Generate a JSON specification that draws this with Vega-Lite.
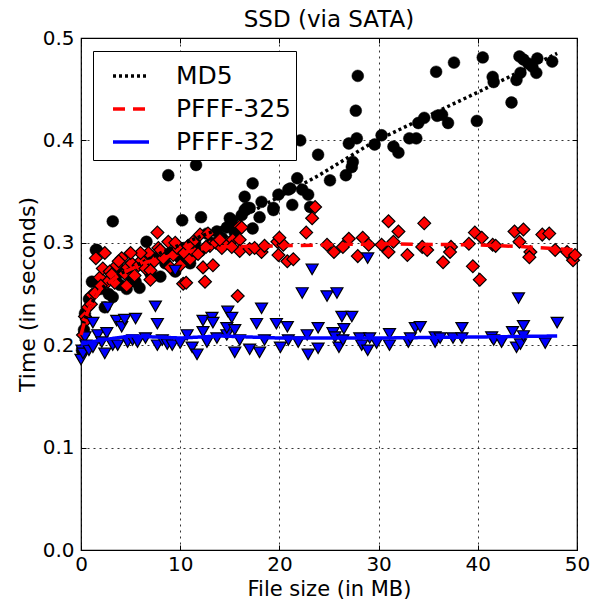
{
  "$schema": "https://vega.github.io/schema/vega-lite/v6.json",
  "width": 496,
  "height": 512,
  "autosize": {"type": "none"},
  "padding": {"left": 81, "top": 38, "right": 18, "bottom": 59},
  "title": {"text": "SSD (via SATA)", "fontSize": 23, "font": "DejaVu Sans", "fontWeight": "normal", "color": "black", "offset": -4},
  "config": {
    "font": "DejaVu Sans",
    "view": {"stroke": "black", "strokeWidth": 1.2},
    "axis": {"labelFont": "DejaVu Sans", "titleFont": "DejaVu Sans", "labelColor": "black", "titleColor": "black", "titleFontWeight": "normal", "domainColor": "black", "tickColor": "black", "labelFlush": false}
  },
  "datasets": {
    "md5": [
      [3.2,0.321],[8.8,0.366],[11.6,0.376],[10.2,0.322],[6.6,0.301],[1.6,0.293],[22.1,0.400],[23.9,0.386],[17.3,0.358],[21.8,0.363],[21.1,0.353],[19.9,0.347],[22.9,0.347],[16.5,0.345],[18.2,0.340],[16.7,0.334],[19.4,0.332],[21.3,0.337],[23.1,0.335],[15.2,0.322],[16.2,0.327],[14.7,0.315],[12.1,0.325],[20.9,0.352],[22.3,0.352],[17.0,0.334],[16.5,0.332],[15.1,0.317],
      [27.9,0.463],[27.7,0.429],[27.8,0.402],[27.0,0.397],[25.1,0.361],[26.7,0.366],[27.3,0.374],[27.4,0.379],[29.6,0.396],[30.3,0.405],[31.5,0.394],[32.0,0.388],[33.1,0.402],[33.8,0.402],[34.0,0.417],[34.6,0.422],[35.9,0.424],[36.4,0.425],[37.0,0.417],[35.8,0.467],[37.6,0.476],[39.9,0.419],[40.5,0.481],[41.5,0.462],[41.6,0.457],[43.4,0.437],[43.9,0.459],[44.3,0.466],[44.2,0.482],[44.6,0.479],[45.1,0.475],[46.0,0.480],[45.9,0.466],[47.5,0.477],[45.5,0.472],
      [0.1,0.195],[0.3,0.215],[0.4,0.231],[0.8,0.245],[1.1,0.262],[1.5,0.293],[2.0,0.255],[2.4,0.237],[2.8,0.250],[3.2,0.247],[3.5,0.265],[3.9,0.259],[4.2,0.272],[4.6,0.255],[5.0,0.268],[5.5,0.262],[5.9,0.256],[6.3,0.278],[7.0,0.270],[7.5,0.285],[8.0,0.267],[8.5,0.280],[9.0,0.290],[9.5,0.272],[10.0,0.285],[10.5,0.295],[11.0,0.280],[11.5,0.300],[12.0,0.292],[12.7,0.309],[13.2,0.300],[13.7,0.311],[14.2,0.305],[15.0,0.324],[15.5,0.310],[17.3,0.314],[19.4,0.334],[18.0,0.325]
    ],
    "p325": [
      [0.2,0.210],[0.4,0.228],[0.7,0.237],[1.1,0.249],[1.4,0.251],[1.5,0.285],[1.9,0.266],[2.2,0.275],[2.4,0.290],[2.7,0.262],[2.9,0.272],[3.1,0.269],[3.4,0.261],[3.6,0.278],[4.1,0.285],[4.4,0.270],[4.7,0.276],[5.1,0.280],[5.4,0.268],[5.8,0.278],[6.1,0.283],[6.5,0.275],[6.8,0.290],[7.0,0.273],[7.0,0.264],[7.4,0.282],[7.7,0.310],[7.8,0.295],[8.3,0.285],[8.8,0.301],[9.0,0.276],[9.3,0.288],[9.7,0.295],[10.0,0.278],[10.3,0.260],[10.4,0.290],[10.6,0.261],[11.0,0.284],[11.2,0.293],[11.3,0.301],[11.8,0.289],[12.0,0.308],[12.3,0.276],[12.5,0.262],[12.8,0.309],[13.0,0.297],[13.3,0.278],[13.6,0.300],[14.2,0.295],[14.8,0.300],[15.3,0.303],[15.8,0.248],[16.0,0.303],[16.0,0.292],[16.0,0.316],[17.0,0.294],[18.2,0.291],[19.8,0.301],[19.9,0.288],[20.4,0.298],[20.8,0.282],[21.4,0.284],[22.7,0.310],[23.3,0.324],[23.6,0.335],
      [9.5,0.300],[8.0,0.293],[6.0,0.290],[5.0,0.290],[3.8,0.282],[4.6,0.258],[2.0,0.258],[1.0,0.240],[0.6,0.225],[10.8,0.297],[12.6,0.296],[14.0,0.303],[17.5,0.295],[18.5,0.297],[15.2,0.296],[16.2,0.315],[20.0,0.305],
      [24.8,0.298],[25.5,0.291],[26.4,0.296],[27.0,0.304],[27.9,0.287],[28.4,0.305],[29.0,0.298],[30.3,0.298],[31.0,0.321],[31.0,0.291],[31.5,0.301],[32.0,0.311],[32.9,0.288],[34.4,0.296],[34.6,0.319],[34.9,0.293],[36.5,0.281],[37.3,0.296],[37.2,0.291],[39.1,0.299],[39.5,0.277],[39.7,0.310],[40.2,0.264],[40.4,0.305],[41.5,0.298],[41.8,0.297],[43.7,0.311],[44.2,0.301],[44.6,0.313],[45.3,0.291],[45.2,0.286],[46.5,0.308],[47.2,0.309],[47.8,0.293],[49.0,0.291],[49.6,0.283],[49.8,0.288]
    ],
    "p32": [
      [0.0,0.186],[0.1,0.195],[0.2,0.192],[0.4,0.208],[0.5,0.200],[0.8,0.195],[1.2,0.222],[1.2,0.198],[1.7,0.210],[2.1,0.203],[2.4,0.192],[2.6,0.212],[2.7,0.237],[3.2,0.200],[3.6,0.224],[3.7,0.200],[4.1,0.218],[4.4,0.225],[4.7,0.203],[5.2,0.205],[5.5,0.226],[5.7,0.203],[6.5,0.207],[7.5,0.238],[7.7,0.221],[7.7,0.200],[8.2,0.205],[8.7,0.201],[9.2,0.200],[9.5,0.273],[10.0,0.202],[10.7,0.210],[11.2,0.198],[11.7,0.191],[12.3,0.224],[12.3,0.213],[12.7,0.203],[13.2,0.227],[13.3,0.222],[13.7,0.207],[14.7,0.210],[14.7,0.217],[14.8,0.233],[15.2,0.227],[15.5,0.215],[15.5,0.193],[16.0,0.205],[17.0,0.196],[17.7,0.221],[18.0,0.193],[18.2,0.236],[18.5,0.205],[19.7,0.221],[20.1,0.198],[20.8,0.218],[20.9,0.205],[21.9,0.203],[22.3,0.251],[22.8,0.210],[22.9,0.191],[23.3,0.274],[23.9,0.217],[23.9,0.197],[24.8,0.248],[25.4,0.212],[25.6,0.208],[25.8,0.251],[26.0,0.198],[26.3,0.228],[26.4,0.205],[26.5,0.216],[27.3,0.228],[28.1,0.207],[28.3,0.200],[28.9,0.195],[28.9,0.285],[29.1,0.207],[29.8,0.202],[31.1,0.211],[31.1,0.200],[33.0,0.203],[33.2,0.207],[33.7,0.217],[34.2,0.218],[35.7,0.208],[35.7,0.203],[36.2,0.207],[37.5,0.207],[38.4,0.217],[38.4,0.207],[41.4,0.208],[41.6,0.205],[42.4,0.203],[43.5,0.213],[43.9,0.198],[44.1,0.246],[44.3,0.201],[44.6,0.219],[44.6,0.209],[46.8,0.202],[48.0,0.222]
    ],
    "fit": [
      {"s":"MD5","x":0,"y":0.215},{"s":"MD5","x":1,"y":0.24},{"s":"MD5","x":2,"y":0.255},{"s":"MD5","x":4,"y":0.27},{"s":"MD5","x":6,"y":0.28},{"s":"MD5","x":8,"y":0.29},{"s":"MD5","x":10,"y":0.298},{"s":"MD5","x":12,"y":0.306},{"s":"MD5","x":14,"y":0.314},{"s":"MD5","x":17.5,"y":0.332},{"s":"MD5","x":20,"y":0.345},{"s":"MD5","x":24,"y":0.366},{"s":"MD5","x":29.4,"y":0.398},{"s":"MD5","x":35,"y":0.424},{"s":"MD5","x":40,"y":0.447},{"s":"MD5","x":44,"y":0.466},{"s":"MD5","x":48,"y":0.485},
      {"s":"PFFF-325","x":0,"y":0.21},{"s":"PFFF-325","x":0.5,"y":0.228},{"s":"PFFF-325","x":1,"y":0.24},{"s":"PFFF-325","x":2,"y":0.255},{"s":"PFFF-325","x":4,"y":0.27},{"s":"PFFF-325","x":6.6,"y":0.281},{"s":"PFFF-325","x":10,"y":0.29},{"s":"PFFF-325","x":13.3,"y":0.296},{"s":"PFFF-325","x":20,"y":0.297},{"s":"PFFF-325","x":30,"y":0.299},{"s":"PFFF-325","x":40,"y":0.298},{"s":"PFFF-325","x":45,"y":0.296},{"s":"PFFF-325","x":50,"y":0.293},
      {"s":"PFFF-32","x":0,"y":0.201},{"s":"PFFF-32","x":2,"y":0.205},{"s":"PFFF-32","x":5,"y":0.209},{"s":"PFFF-32","x":10,"y":0.207},{"s":"PFFF-32","x":14,"y":0.209},{"s":"PFFF-32","x":20,"y":0.207},{"s":"PFFF-32","x":30,"y":0.207},{"s":"PFFF-32","x":40,"y":0.208},{"s":"PFFF-32","x":48,"y":0.209}
    ]
  },
  "layer": [
    {
      "layer": [
        {
          "data": {"name": "md5"},
          "mark": {"type": "point", "shape": "circle", "filled": true, "fill": "black", "stroke": "black", "strokeWidth": 0.5, "size": 140, "opacity": 1},
          "encoding": {
            "x": {"field": "0", "type": "quantitative", "scale": {"domain": [0, 50], "nice": false, "padding": 0}, "title": "File size (in MB)",
              "axis": {"values": [0,10,20,30,40,50], "format": "d", "labelFontSize": 20, "titleFontSize": 21, "tickSize": -5, "labelPadding": 9, "titlePadding": 4, "grid": true, "gridColor": "black", "gridDash": [2,4], "gridWidth": 0.8, "gridOpacity": 1, "domain": false}},
            "y": {"field": "1", "type": "quantitative", "scale": {"domain": [0, 0.5], "nice": false, "padding": 0}, "title": "Time (in seconds)",
              "axis": {"values": [0,0.1,0.2,0.3,0.4,0.5], "format": ".1f", "labelFontSize": 20, "titleFontSize": 22, "tickSize": -5, "labelPadding": 12, "titlePadding": 3, "grid": true, "gridColor": "black", "gridDash": [2,4], "gridWidth": 0.8, "gridOpacity": 1, "domain": false}}
          }
        },
        {
          "data": {"name": "p325"},
          "mark": {"type": "point", "shape": "diamond", "filled": true, "fill": "red", "stroke": "black", "strokeWidth": 1.2, "size": 165, "opacity": 1},
          "encoding": {"x": {"field": "0", "type": "quantitative"}, "y": {"field": "1", "type": "quantitative"}}
        },
        {
          "data": {"name": "p32"},
          "mark": {"type": "point", "shape": "triangle-down", "filled": true, "fill": "blue", "stroke": "black", "strokeWidth": 1.2, "size": 145, "opacity": 1},
          "encoding": {"x": {"field": "0", "type": "quantitative"}, "y": {"field": "1", "type": "quantitative"}}
        },
        {
          "data": {"name": "fit"},
          "mark": {"type": "line", "strokeWidth": 3.5},
          "encoding": {
            "x": {"field": "x", "type": "quantitative"},
            "y": {"field": "y", "type": "quantitative"},
            "color": {"field": "s", "type": "nominal", "title": null, "scale": {"domain": ["MD5", "PFFF-325", "PFFF-32"], "range": ["black", "red", "blue"]},
              "legend": {"orient": "none", "legendX": 12, "legendY": 13, "labelFontSize": 25, "labelFont": "DejaVu Sans", "labelColor": "black", "symbolType": "stroke", "symbolSize": 1296, "symbolStrokeWidth": 3.5, "strokeColor": "black", "fillColor": "white", "padding": 5, "rowPadding": 0, "labelOffset": 25, "symbolOffset": 13, "cornerRadius": 0, "labelLimit": 300}},
            "strokeDash": {"field": "s", "type": "nominal", "title": null, "scale": {"domain": ["MD5", "PFFF-325", "PFFF-32"], "range": [[3, 3], [12, 8], [1, 0]]}}
          }
        }
      ]
    },
    {
      "data": {"values": [{"a": 0, "b": 0}]},
      "mark": {"type": "point", "opacity": 0},
      "encoding": {
        "x": {"field": "a", "type": "quantitative", "scale": {"domain": [0, 50], "nice": false},
          "axis": {"orient": "top", "values": [0,10,20,30,40,50], "labels": false, "title": null, "tickSize": -5, "grid": false, "domain": false}},
        "y": {"field": "b", "type": "quantitative", "scale": {"domain": [0, 0.5], "nice": false},
          "axis": {"orient": "right", "values": [0,0.1,0.2,0.3,0.4,0.5], "labels": false, "title": null, "tickSize": -5, "grid": false, "domain": false}}
      }
    }
  ],
  "resolve": {"scale": {"x": "independent", "y": "independent"}}
}
